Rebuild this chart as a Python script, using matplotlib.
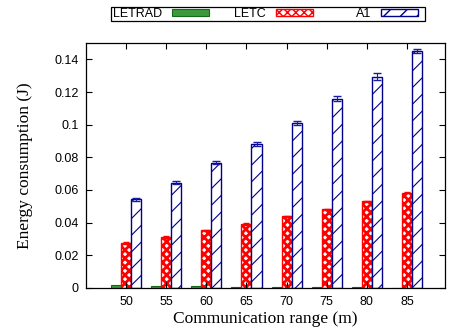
import numpy as np
import matplotlib
matplotlib.use("Agg")
from matplotlib import pyplot as plt
from matplotlib.ticker import FuncFormatter
from matplotlib.patches import Rectangle

ranges = [50, 55, 60, 65, 70, 75, 80, 85]
letrad = [0.0020, 0.0014, 0.0010, 0.0006, 0.0004, 0.0003, 0.0003, 0.0002]
letc = [0.0276, 0.0312, 0.0353, 0.0391, 0.0438, 0.0481, 0.0530, 0.0584]
a1 = [0.0542, 0.0645, 0.0767, 0.0882, 0.1010, 0.1160, 0.1295, 0.1450]
letc_err = [0.0004, 0.0004, 0.0004, 0.0004, 0.0005, 0.0005, 0.0005, 0.0005]
a1_err = [0.0008, 0.0008, 0.0010, 0.0010, 0.0013, 0.0018, 0.0020, 0.0012]


def hatch_lw(bars, lw):
    for b in bars:
        if hasattr(b, 'set_hatch_linewidth'):
            b.set_hatch_linewidth(lw)


fig = plt.figure(figsize=(4.52, 3.31), dpi=100)
ax = fig.add_axes([0.190, 0.130, 0.795, 0.740])

x = np.arange(len(ranges))
w = 0.25
b1 = ax.bar(x - w, letrad, w, color='#3c9a3c', edgecolor='#16691a', lw=0.8,
            label='LETRAD')
with plt.rc_context({'hatch.linewidth': 2.0}):
    b2 = ax.bar(x, letc, w, color='white', edgecolor='#ff0000', hatch='xxxx',
                lw=1.0, label='LETC')
hatch_lw(b2, 2.0)
ax.errorbar(x, letc, yerr=letc_err, fmt='none', ecolor='#ff0000', capsize=2.5,
            lw=0.8)
with plt.rc_context({'hatch.linewidth': 0.8}):
    b3 = ax.bar(x + w, a1, w, color='white', edgecolor='#00008b', hatch='//',
                lw=1.0, label='A1')
hatch_lw(b3, 0.8)
ax.errorbar(x + w, a1, yerr=a1_err, fmt='none', ecolor='#1a1aa8', capsize=3,
            lw=0.8)

ax.set_xlim(-1, 7.95)
ax.set_ylim(0, 0.15)
ax.set_xticks(x)
ax.set_xticklabels([str(r) for r in ranges])
ax.set_yticks(np.arange(0, 0.141, 0.02))
ax.yaxis.set_major_formatter(FuncFormatter(lambda v, p: '%g' % round(v, 2)))
ax.tick_params(direction='in', top=True, right=True, length=4.5, width=0.8,
               labelsize=9)
ax.tick_params(axis='x', pad=6)
ax.tick_params(axis='y', pad=5)
for lab in ax.get_xticklabels() + ax.get_yticklabels():
    lab.set_family(['Liberation Sans', 'DejaVu Sans'])
for s in ax.spines.values():
    s.set_linewidth(0.9)

ax.set_xlabel('Communication range (m)', family='Liberation Serif',
              fontsize=12.5)
ax.xaxis.set_label_coords(0.5, -0.095)
ax.set_ylabel('Energy consumption (J)', family='Liberation Serif',
              fontsize=12.5)
ax.yaxis.set_label_coords(-0.148, 0.5)

# gnuplot style key: label right-aligned before each sample, one box around
ends = [209, 313, 418]
yk = 1 - 14 / 331
for h, xe in zip([b1, b2, b3], ends):
    fig.legend(handles=[h], loc='center right', bbox_to_anchor=(xe / 452, yk),
               markerfirst=False, frameon=False, handlelength=2.95,
               handleheight=0.55, handletextpad=0.8, borderpad=0,
               borderaxespad=0,
               prop={'family': 'Liberation Sans', 'size': 9})
fig.add_artist(Rectangle((111 / 452, 1 - 20.5 / 331), 314 / 452, 13 / 331,
                         transform=fig.transFigure, fill=False,
                         edgecolor='black', lw=0.9))

fig.savefig('out.png', dpi=100)
